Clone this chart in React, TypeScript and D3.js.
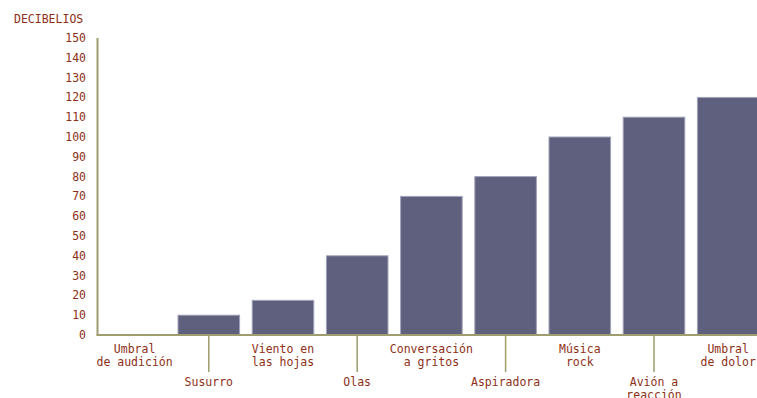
import React from "react";
import * as d3 from "d3";

const categories: string[][] = [
  ["Umbral", "de audición"],
  ["Susurro"],
  ["Viento en", "las hojas"],
  ["Olas"],
  ["Conversación", "a gritos"],
  ["Aspiradora"],
  ["Música", "rock"],
  ["Avión a", "reacción"],
  ["Umbral", "de dolor"],
];
const values: number[] = [0, 10, 17.5, 40, 70, 80, 100, 110, 120];
const yTicks: number[] = d3.range(0, 151, 10);
const yTitle = "DECIBELIOS";

const W = 757;
const H = 398;
const x0 = 97.5;
const y0 = 335;
const yTop = 38;

export default function App() {
  const idx = categories.map((_, i) => String(i));
  const x = d3.scaleBand<string>().domain(idx).range([x0, x0 + 9 * 74.2]).paddingInner(0.17).paddingOuter(0.085);
  const y = d3.scaleLinear().domain([0, 150]).range([y0, yTop]);
  const textColor = "#8e3018";
  const axisColor = "#9d9d6e";
  const font = "'DejaVu Sans Mono', monospace";
  return (
    <svg width={W} height={H} style={{ position: "absolute", left: 0, top: 0, background: "#fff" }}>
      <text x={14} y={23} fill={textColor} fontFamily={font} fontSize={11.5}>{yTitle}</text>
      {yTicks.map((t) => (
        <text key={t} x={86} y={y(t) + 4} textAnchor="end" fill={textColor} fontFamily={font} fontSize={11.5}>
          {t}
        </text>
      ))}
      {values.map((v, i) =>
        v > 0 ? (
          <rect
            key={i}
            x={x(String(i))!}
            y={y(v)}
            width={x.bandwidth()}
            height={y0 - y(v)}
            fill="#5f5f7e"
            stroke="#a3a3bb"
            strokeWidth={1}
          />
        ) : null
      )}
      <line x1={x0} x2={x0} y1={yTop} y2={y0} stroke={axisColor} strokeWidth={2} />
      <line x1={x0 - 1} x2={W} y1={y0} y2={y0} stroke={axisColor} strokeWidth={2} />
      {categories.map((lines, i) => {
        const cx = x(String(i))! + x.bandwidth() / 2;
        const odd = i % 2 === 1;
        const base = odd ? 386 : 353;
        return (
          <g key={i}>
            {odd && <line x1={cx} x2={cx} y1={y0} y2={372} stroke={axisColor} strokeWidth={1.5} />}
            {lines.map((l, j) => (
              <text key={j} x={cx} y={base + j * 12.5} textAnchor="middle" fill={textColor} fontFamily={font} fontSize={11.5}>
                {l}
              </text>
            ))}
          </g>
        );
      })}
    </svg>
  );
}
